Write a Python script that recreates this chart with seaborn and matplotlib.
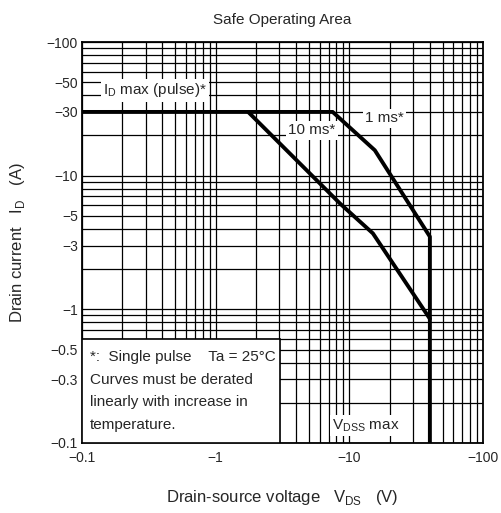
import matplotlib
matplotlib.use('Agg')
import matplotlib.pyplot as plt
import seaborn as sns
import pandas as pd
from matplotlib.patches import Rectangle

# curve data (|VDS| in V, |ID| in A)
vds_1ms = [0.1, 7.5, 15.5, 40, 40]
id_1ms = [30, 30, 15.5, 3.5, 0.1]
vds_10ms = [1.75, 8.5, 15, 40]
id_10ms = [30, 6.2, 3.7, 0.85]

x_ticks = [0.1, 1, 10, 100]
x_labels = ['\u22120.1', '\u22121', '\u221210', '\u2212100']
y_ticks = [0.1, 0.3, 0.5, 1, 3, 5, 10, 30, 50, 100]
y_labels = ['\u22120.1', '\u22120.3', '\u22120.5', '\u22121', '\u22123', '\u22125',
            '\u221210', '\u221230', '\u221250', '\u2212100']

sns.set_style('white')
plt.rcParams['font.family'] = ['Liberation Sans', 'DejaVu Sans']
plt.rcParams['mathtext.fontset'] = 'custom'
plt.rcParams['mathtext.rm'] = 'Liberation Sans'

fig = plt.figure(figsize=(5.02, 5.13), dpi=100)
ax = fig.add_axes([0.1633, 0.1365, 0.799, 0.7815])

df1 = pd.DataFrame({'vds': vds_1ms, 'id': id_1ms})
df10 = pd.DataFrame({'vds': vds_10ms, 'id': id_10ms})
sns.lineplot(data=df1, x='vds', y='id', sort=False, estimator=None, color='black', lw=2.8, ax=ax, zorder=5)
sns.lineplot(data=df10, x='vds', y='id', sort=False, estimator=None, color='black', lw=2.8, ax=ax, zorder=5)

ax.set_xscale('log')
ax.set_yscale('log')
ax.set_xlim(0.1, 100)
ax.set_ylim(0.1, 100)

minor = [m * 10.0 ** e for e in range(-1, 2) for m in range(2, 10)]
ax.set_xticks(minor, minor=True)
ax.set_yticks(minor, minor=True)
ax.set_xticks(x_ticks)
ax.set_xticklabels(x_labels)
ax.set_yticks(y_ticks)
ax.set_yticklabels(y_labels)
ax.tick_params(which='both', length=0, labelsize=10, pad=3)
ax.tick_params(axis='x', pad=6)
ax.xaxis.set_minor_formatter(plt.NullFormatter())
ax.yaxis.set_minor_formatter(plt.NullFormatter())
ax.grid(True, which='both', color='black', lw=0.9)
ax.set_axisbelow(True)
for s in ax.spines.values():
    s.set_color('black')
    s.set_linewidth(1.3)

ax.set_xlabel('Drain-source voltage   V$_\\mathregular{DS}$   (V)', fontsize=12, labelpad=16)
ax.set_ylabel('Drain current   I$_\\mathregular{D}$   (A)', fontsize=12, labelpad=14)
ax.set_title('Safe Operating Area', fontsize=11, pad=13)

box = dict(facecolor='white', edgecolor='none', pad=1.5)
ax.text(0.35, 43.5, 'I$_\\mathregular{D}$ max (pulse)*', fontsize=11, ha='center', va='center', bbox=box, zorder=6)
ax.text(18.2, 26.8, '1 ms*', fontsize=11, ha='center', va='center', bbox=box, zorder=6)
ax.text(5.25, 21.8, '10 ms*', fontsize=11, ha='center', va='center', bbox=box, zorder=6)
ax.text(13.3, 0.135, 'V$_\\mathregular{DSS}$ max', fontsize=11, ha='center', va='center', bbox=box, zorder=6)

# note box in the lower left corner
ax.add_patch(Rectangle((0, 0), 0.494, 0.259, transform=ax.transAxes, facecolor='white',
                       edgecolor='black', lw=1.2, zorder=6))
notes = ['*:  Single pulse    Ta = 25\u00b0C', 'Curves must be derated',
         'linearly with increase in', 'temperature.']
for i, line in enumerate(notes):
    ax.text(0.02, 0.2145 - i * 0.0565, line, transform=ax.transAxes, fontsize=11,
            ha='left', va='center', zorder=7)

fig.savefig('out.png', dpi=100)
